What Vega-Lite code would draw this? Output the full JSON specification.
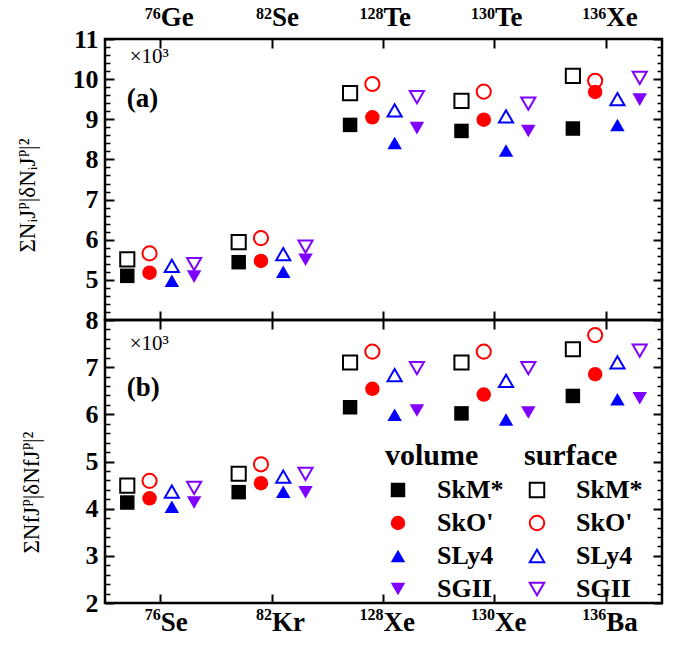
{
  "$schema": "https://vega.github.io/schema/vega-lite/v6.json",
  "background": "white",
  "padding": {"left": 14, "top": 1, "right": 10, "bottom": 5},
  "spacing": 0,
  "bounds": "flush",
  "config": {
    "view": {"stroke": "black", "strokeWidth": 2.5},
    "font": "Liberation Serif",
    "axis": {
      "labelFont": "Liberation Serif",
      "labelFontWeight": "bold",
      "labelColor": "black",
      "titleFont": "Liberation Serif, DejaVu Serif",
      "titleFontWeight": "normal",
      "titleColor": "black",
      "labelOverlap": false,
      "labelFlush": false
    },
    "legend": {
      "orient": "none",
      "direction": "vertical",
      "titleFont": "Liberation Serif",
      "titleFontSize": 30,
      "titleFontWeight": "bold",
      "titleColor": "black",
      "labelFont": "Liberation Serif",
      "labelFontSize": 26,
      "labelFontWeight": "bold",
      "labelColor": "black",
      "symbolSize": 210,
      "symbolStrokeWidth": 2,
      "rowPadding": 7,
      "labelOffset": 26,
      "titlePadding": 6,
      "padding": 0
    }
  },
  "datasets": {
    "top": [
      {"nucleus": "76 Ge", "model": "SkM*", "type": "volume", "value": 5.10},
      {"nucleus": "76 Ge", "model": "SkO'", "type": "volume", "value": 5.18},
      {"nucleus": "76 Ge", "model": "SLy4", "type": "volume", "value": 4.98},
      {"nucleus": "76 Ge", "model": "SGII", "type": "volume", "value": 5.08},
      {"nucleus": "76 Ge", "model": "SkM*", "type": "surface", "value": 5.51},
      {"nucleus": "76 Ge", "model": "SkO'", "type": "surface", "value": 5.66},
      {"nucleus": "76 Ge", "model": "SLy4", "type": "surface", "value": 5.35},
      {"nucleus": "76 Ge", "model": "SGII", "type": "surface", "value": 5.39},
      {"nucleus": "82 Se", "model": "SkM*", "type": "volume", "value": 5.44},
      {"nucleus": "82 Se", "model": "SkO'", "type": "volume", "value": 5.47},
      {"nucleus": "82 Se", "model": "SLy4", "type": "volume", "value": 5.20},
      {"nucleus": "82 Se", "model": "SGII", "type": "volume", "value": 5.50},
      {"nucleus": "82 Se", "model": "SkM*", "type": "surface", "value": 5.94},
      {"nucleus": "82 Se", "model": "SkO'", "type": "surface", "value": 6.04},
      {"nucleus": "82 Se", "model": "SLy4", "type": "surface", "value": 5.64},
      {"nucleus": "82 Se", "model": "SGII", "type": "surface", "value": 5.83},
      {"nucleus": "128 Te", "model": "SkM*", "type": "volume", "value": 8.86},
      {"nucleus": "128 Te", "model": "SkO'", "type": "volume", "value": 9.05},
      {"nucleus": "128 Te", "model": "SLy4", "type": "volume", "value": 8.41},
      {"nucleus": "128 Te", "model": "SGII", "type": "volume", "value": 8.78},
      {"nucleus": "128 Te", "model": "SkM*", "type": "surface", "value": 9.65},
      {"nucleus": "128 Te", "model": "SkO'", "type": "surface", "value": 9.88},
      {"nucleus": "128 Te", "model": "SLy4", "type": "surface", "value": 9.22},
      {"nucleus": "128 Te", "model": "SGII", "type": "surface", "value": 9.55},
      {"nucleus": "130 Te", "model": "SkM*", "type": "volume", "value": 8.71},
      {"nucleus": "130 Te", "model": "SkO'", "type": "volume", "value": 8.99},
      {"nucleus": "130 Te", "model": "SLy4", "type": "volume", "value": 8.22},
      {"nucleus": "130 Te", "model": "SGII", "type": "volume", "value": 8.71},
      {"nucleus": "130 Te", "model": "SkM*", "type": "surface", "value": 9.46},
      {"nucleus": "130 Te", "model": "SkO'", "type": "surface", "value": 9.69},
      {"nucleus": "130 Te", "model": "SLy4", "type": "surface", "value": 9.07},
      {"nucleus": "130 Te", "model": "SGII", "type": "surface", "value": 9.39},
      {"nucleus": "136 Xe", "model": "SkM*", "type": "volume", "value": 8.77},
      {"nucleus": "136 Xe", "model": "SkO'", "type": "volume", "value": 9.68},
      {"nucleus": "136 Xe", "model": "SLy4", "type": "volume", "value": 8.86},
      {"nucleus": "136 Xe", "model": "SGII", "type": "volume", "value": 9.49},
      {"nucleus": "136 Xe", "model": "SkM*", "type": "surface", "value": 10.08},
      {"nucleus": "136 Xe", "model": "SkO'", "type": "surface", "value": 9.96},
      {"nucleus": "136 Xe", "model": "SLy4", "type": "surface", "value": 9.50},
      {"nucleus": "136 Xe", "model": "SGII", "type": "surface", "value": 10.03}
    ],
    "bottom": [
      {"nucleus": "76 Se", "model": "SkM*", "type": "volume", "value": 4.13},
      {"nucleus": "76 Se", "model": "SkO'", "type": "volume", "value": 4.22},
      {"nucleus": "76 Se", "model": "SLy4", "type": "volume", "value": 4.04},
      {"nucleus": "76 Se", "model": "SGII", "type": "volume", "value": 4.13},
      {"nucleus": "76 Se", "model": "SkM*", "type": "surface", "value": 4.49},
      {"nucleus": "76 Se", "model": "SkO'", "type": "surface", "value": 4.59},
      {"nucleus": "76 Se", "model": "SLy4", "type": "surface", "value": 4.36},
      {"nucleus": "76 Se", "model": "SGII", "type": "surface", "value": 4.44},
      {"nucleus": "82 Kr", "model": "SkM*", "type": "volume", "value": 4.35},
      {"nucleus": "82 Kr", "model": "SkO'", "type": "volume", "value": 4.54},
      {"nucleus": "82 Kr", "model": "SLy4", "type": "volume", "value": 4.36},
      {"nucleus": "82 Kr", "model": "SGII", "type": "volume", "value": 4.35},
      {"nucleus": "82 Kr", "model": "SkM*", "type": "surface", "value": 4.74},
      {"nucleus": "82 Kr", "model": "SkO'", "type": "surface", "value": 4.94},
      {"nucleus": "82 Kr", "model": "SLy4", "type": "surface", "value": 4.68},
      {"nucleus": "82 Kr", "model": "SGII", "type": "surface", "value": 4.74},
      {"nucleus": "128 Xe", "model": "SkM*", "type": "volume", "value": 6.15},
      {"nucleus": "128 Xe", "model": "SkO'", "type": "volume", "value": 6.54},
      {"nucleus": "128 Xe", "model": "SLy4", "type": "volume", "value": 5.99},
      {"nucleus": "128 Xe", "model": "SGII", "type": "volume", "value": 6.08},
      {"nucleus": "128 Xe", "model": "SkM*", "type": "surface", "value": 7.10},
      {"nucleus": "128 Xe", "model": "SkO'", "type": "surface", "value": 7.33},
      {"nucleus": "128 Xe", "model": "SLy4", "type": "surface", "value": 6.83},
      {"nucleus": "128 Xe", "model": "SGII", "type": "surface", "value": 6.98},
      {"nucleus": "130 Xe", "model": "SkM*", "type": "volume", "value": 6.02},
      {"nucleus": "130 Xe", "model": "SkO'", "type": "volume", "value": 6.42},
      {"nucleus": "130 Xe", "model": "SLy4", "type": "volume", "value": 5.89},
      {"nucleus": "130 Xe", "model": "SGII", "type": "volume", "value": 6.04},
      {"nucleus": "130 Xe", "model": "SkM*", "type": "surface", "value": 7.10},
      {"nucleus": "130 Xe", "model": "SkO'", "type": "surface", "value": 7.33},
      {"nucleus": "130 Xe", "model": "SLy4", "type": "surface", "value": 6.71},
      {"nucleus": "130 Xe", "model": "SGII", "type": "surface", "value": 6.98},
      {"nucleus": "136 Ba", "model": "SkM*", "type": "volume", "value": 6.39},
      {"nucleus": "136 Ba", "model": "SkO'", "type": "volume", "value": 6.85},
      {"nucleus": "136 Ba", "model": "SLy4", "type": "volume", "value": 6.32},
      {"nucleus": "136 Ba", "model": "SGII", "type": "volume", "value": 6.34},
      {"nucleus": "136 Ba", "model": "SkM*", "type": "surface", "value": 7.38},
      {"nucleus": "136 Ba", "model": "SkO'", "type": "surface", "value": 7.68},
      {"nucleus": "136 Ba", "model": "SLy4", "type": "surface", "value": 7.10},
      {"nucleus": "136 Ba", "model": "SGII", "type": "surface", "value": 7.35}
    ]
  },
  "vconcat": [
    {
      "width": 557,
      "height": 281,
      "data": {"name": "top"},
      "layer": [
        {
          "transform": [{"filter": "datum.type === 'volume'"}],
          "mark": {"type": "point", "filled": true, "size": 210, "opacity": 1},
          "encoding": {
            "x": {"field": "nucleus", "type": "nominal", "sort": null,
              "scale": {"domain": ["76 Ge", "82 Se", "128 Te", "130 Te", "136 Xe"], "paddingInner": 0, "paddingOuter": 0},
              "axis": {"orient": "top", "title": null, "domain": false, "ticks": false, "labelAngle": 0, "labelExpr": "split(datum.label, ' ')[1]", "labelFontSize": 27, "labelAlign": "left", "labelDx": -3, "labelPadding": 8, "bandPosition": 0.5, "grid": true, "gridColor": "black", "gridWidth": 2, "gridOpacity": 1, "gridDash": [9, 263, 9, 3000]}},
            "xOffset": {"field": "model", "type": "nominal", "scale": {"type": "point", "domain": ["SkM*", "SkO'", "SLy4", "SGII"], "padding": 3.5}},
            "y": {"field": "value", "type": "quantitative",
              "scale": {"domain": [4, 11], "nice": false, "zero": false},
              "axis": {"orient": "left", "title": "ΣNᵢJᴾ|δNᵢJᴾ|²", "titleFontSize": 23, "titleX": -66, "titleY": 156, "values": [5, 6, 7, 8, 9, 10, 11], "labelFontSize": 26, "labelPadding": 7, "domain": false, "ticks": false, "grid": true, "gridColor": "black", "gridWidth": 2, "gridOpacity": 1, "gridDash": [9, 539, 9, 3000]}},
            "shape": {"field": "model", "type": "nominal", "scale": {"domain": ["SkM*", "SkO'", "SLy4", "SGII"], "range": ["square", "circle", "triangle-up", "triangle-down"]}, "legend": null},
            "color": {"field": "model", "type": "nominal", "scale": {"domain": ["SkM*", "SkO'", "SLy4", "SGII"], "range": ["#000000", "#ff0000", "#0000ff", "#7f00ff"]}, "legend": null}
          }
        },
        {
          "transform": [{"filter": "datum.type === 'surface'"}],
          "mark": {"type": "point", "filled": false, "size": 200, "strokeWidth": 2, "opacity": 1},
          "encoding": {
            "x": {"field": "nucleus", "type": "nominal", "sort": null,
              "scale": {"domain": ["76 Ge", "82 Se", "128 Te", "130 Te", "136 Xe"], "paddingInner": 0, "paddingOuter": 0},
              "axis": {"orient": "top", "title": null, "domain": false, "ticks": false, "grid": false, "labelAngle": 0, "labelExpr": "split(datum.label, ' ')[0]", "labelFontSize": 16, "labelAlign": "right", "labelDx": -3, "labelPadding": 18, "bandPosition": 0.5}},
            "xOffset": {"field": "model", "type": "nominal", "scale": {"type": "point", "domain": ["SkM*", "SkO'", "SLy4", "SGII"], "padding": 3.5}},
            "y": {"field": "value", "type": "quantitative",
              "scale": {"domain": [4, 11], "nice": false, "zero": false},
              "axis": {"orient": "right", "title": null, "labels": false, "domain": false, "ticks": false, "values": [4.2, 4.4, 4.6, 4.8, 5.2, 5.4, 5.6, 5.8, 6.2, 6.4, 6.6, 6.8, 7.2, 7.4, 7.6, 7.8, 8.2, 8.4, 8.6, 8.8, 9.2, 9.4, 9.6, 9.8, 10.2, 10.4, 10.6, 10.8], "grid": true, "gridColor": "black", "gridWidth": 1.5, "gridOpacity": 1, "gridDash": [5, 547, 5, 3000]}},
            "shape": {"field": "model", "type": "nominal", "scale": {"domain": ["SkM*", "SkO'", "SLy4", "SGII"], "range": ["square", "circle", "triangle-up", "triangle-down"]}, "legend": null},
            "color": {"field": "model", "type": "nominal", "scale": {"domain": ["SkM*", "SkO'", "SLy4", "SGII"], "range": ["#000000", "#ff0000", "#0000ff", "#7f00ff"]}, "legend": null}
          }
        },
        {
          "data": {"values": [{"t": "×10³"}]},
          "mark": {"type": "text", "align": "left", "baseline": "middle", "fontSize": 21, "dx": -31, "color": "black", "font": "Liberation Serif"},
          "encoding": {
            "x": {"datum": "76 Ge", "type": "nominal", "axis": null},
            "y": {"datum": 10.55, "type": "quantitative", "axis": null},
            "text": {"field": "t"}
          }
        },
        {
          "data": {"values": [{"t": "(a)"}]},
          "mark": {"type": "text", "align": "left", "baseline": "middle", "fontSize": 27, "fontWeight": "bold", "dx": -34, "color": "black", "font": "Liberation Serif"},
          "encoding": {
            "x": {"datum": "76 Ge", "type": "nominal", "axis": null},
            "y": {"datum": 9.5, "type": "quantitative", "axis": null},
            "text": {"field": "t"}
          }
        }
      ],
      "resolve": {"axis": {"x": "independent", "y": "independent"}}
    },
    {
      "width": 557,
      "height": 283,
      "data": {"name": "bottom"},
      "layer": [
        {
          "transform": [{"filter": "datum.type === 'volume'"}],
          "mark": {"type": "point", "filled": true, "size": 210, "opacity": 1},
          "encoding": {
            "x": {"field": "nucleus", "type": "nominal", "sort": null,
              "scale": {"domain": ["76 Se", "82 Kr", "128 Xe", "130 Xe", "136 Ba"], "paddingInner": 0, "paddingOuter": 0},
              "axis": {"orient": "bottom", "title": null, "domain": false, "ticks": false, "labelAngle": 0, "labelExpr": "split(datum.label, ' ')[1]", "labelFontSize": 27, "labelAlign": "left", "labelDx": -3, "labelPadding": 6, "bandPosition": 0.5, "grid": true, "gridColor": "black", "gridWidth": 2, "gridOpacity": 1, "gridDash": [9, 265, 9, 3000]}},
            "xOffset": {"field": "model", "type": "nominal", "scale": {"type": "point", "domain": ["SkM*", "SkO'", "SLy4", "SGII"], "padding": 3.5}},
            "y": {"field": "value", "type": "quantitative",
              "scale": {"domain": [2, 8], "nice": false, "zero": false},
              "axis": {"orient": "left", "title": "ΣNfJᴾ|δNfJᴾ|²", "titleFontSize": 23, "titleX": -62, "titleY": 172, "values": [2, 3, 4, 5, 6, 7, 8], "labelFontSize": 26, "labelPadding": 7, "domain": false, "ticks": false, "grid": true, "gridColor": "black", "gridWidth": 2, "gridOpacity": 1, "gridDash": [9, 539, 9, 3000]}},
            "shape": {"field": "model", "type": "nominal", "scale": {"domain": ["SkM*", "SkO'", "SLy4", "SGII"], "range": ["square", "circle", "triangle-up", "triangle-down"]}, "legend": {"title": "volume", "legendX": 280, "legendY": 121}},
            "color": {"field": "model", "type": "nominal", "scale": {"domain": ["SkM*", "SkO'", "SLy4", "SGII"], "range": ["#000000", "#ff0000", "#0000ff", "#7f00ff"]}, "legend": {"title": "volume", "legendX": 280, "legendY": 121}}
          }
        },
        {
          "transform": [{"filter": "datum.type === 'surface'"}],
          "mark": {"type": "point", "filled": false, "size": 200, "strokeWidth": 2, "opacity": 1},
          "encoding": {
            "x": {"field": "nucleus", "type": "nominal", "sort": null,
              "scale": {"domain": ["76 Se", "82 Kr", "128 Xe", "130 Xe", "136 Ba"], "paddingInner": 0, "paddingOuter": 0},
              "axis": {"orient": "bottom", "title": null, "domain": false, "ticks": false, "grid": false, "labelAngle": 0, "labelExpr": "split(datum.label, ' ')[0]", "labelFontSize": 16, "labelAlign": "right", "labelDx": -3, "labelPadding": 3, "bandPosition": 0.5}},
            "xOffset": {"field": "model", "type": "nominal", "scale": {"type": "point", "domain": ["SkM*", "SkO'", "SLy4", "SGII"], "padding": 3.5}},
            "y": {"field": "value", "type": "quantitative",
              "scale": {"domain": [2, 8], "nice": false, "zero": false},
              "axis": {"orient": "right", "title": null, "labels": false, "domain": false, "ticks": false, "values": [2.2, 2.4, 2.6, 2.8, 3.2, 3.4, 3.6, 3.8, 4.2, 4.4, 4.6, 4.8, 5.2, 5.4, 5.6, 5.8, 6.2, 6.4, 6.6, 6.8, 7.2, 7.4, 7.6, 7.8], "grid": true, "gridColor": "black", "gridWidth": 1.5, "gridOpacity": 1, "gridDash": [5, 547, 5, 3000]}},
            "shape": {"field": "model", "type": "nominal", "scale": {"domain": ["SkM*", "SkO'", "SLy4", "SGII"], "range": ["square", "circle", "triangle-up", "triangle-down"]}, "legend": {"title": "surface", "legendX": 419, "legendY": 121}},
            "color": {"field": "model", "type": "nominal", "scale": {"domain": ["SkM*", "SkO'", "SLy4", "SGII"], "range": ["#000000", "#ff0000", "#0000ff", "#7f00ff"]}, "legend": {"title": "surface", "legendX": 419, "legendY": 121}}
          }
        },
        {
          "data": {"values": [{"t": "×10³"}]},
          "mark": {"type": "text", "align": "left", "baseline": "middle", "fontSize": 21, "dx": -31, "color": "black", "font": "Liberation Serif"},
          "encoding": {
            "x": {"datum": "76 Se", "type": "nominal", "axis": null},
            "y": {"datum": 7.49, "type": "quantitative", "axis": null},
            "text": {"field": "t"}
          }
        },
        {
          "data": {"values": [{"t": "(b)"}]},
          "mark": {"type": "text", "align": "left", "baseline": "middle", "fontSize": 27, "fontWeight": "bold", "dx": -34, "color": "black", "font": "Liberation Serif"},
          "encoding": {
            "x": {"datum": "76 Se", "type": "nominal", "axis": null},
            "y": {"datum": 6.56, "type": "quantitative", "axis": null},
            "text": {"field": "t"}
          }
        }
      ],
      "resolve": {"axis": {"x": "independent", "y": "independent"}, "scale": {"color": "independent", "shape": "independent"}}
    }
  ]
}
